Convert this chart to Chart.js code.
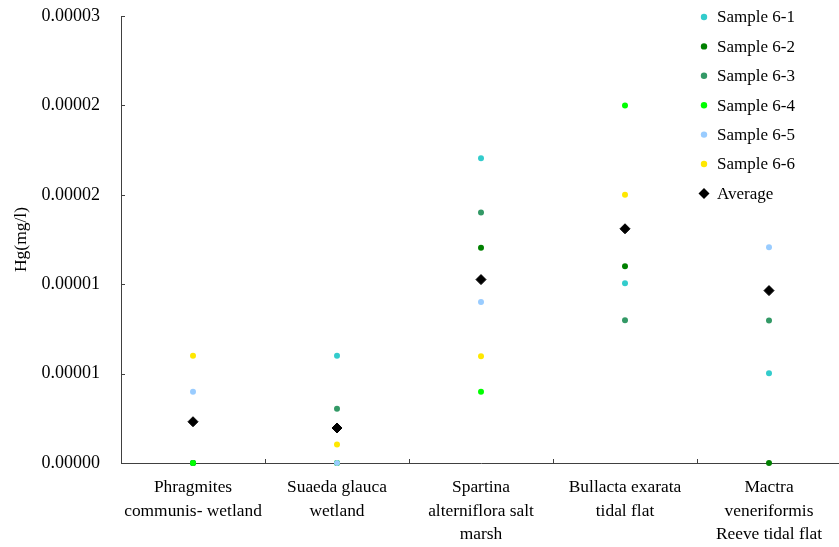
<!DOCTYPE html>
<html>
<head>
<meta charset="utf-8">
<script src="https://cdn.jsdelivr.net/npm/chart.js@4"></script>
<style>
  html, body { margin: 0; padding: 0; background: #fff; overflow: hidden; }
  #wrap { width: 841px; height: 547px; position: relative; }
  canvas { display: block; }
</style>
</head>
<body>
<div id="wrap"><canvas id="c"></canvas></div>
<script>
const categories = [
  ['Phragmites', 'communis- wetland'],
  ['Suaeda glauca', 'wetland'],
  ['Spartina', 'alterniflora salt', 'marsh'],
  ['Bullacta exarata', 'tidal flat'],
  ['Mactra', 'veneriformis', 'Reeve tidal flat']
];
const seriesNames = ['Sample 6-1', 'Sample 6-2', 'Sample 6-3', 'Sample 6-4', 'Sample 6-5', 'Sample 6-6', 'Average'];
const sample61 = [0, 0.00000720, 0.00002046, 0.00001206, 0.00000603];
const sample62 = [0, 0, 0.00001445, 0.00001320, 0];
const sample63 = [0, 0.00000364, 0.00001682, 0.00000958, 0.00000956];
const sample64 = [0, 0, 0.00000478, 0.00002400, null];
const sample65 = [0.00000478, 0, 0.00001081, null, 0.00001448];
const sample66 = [0.00000720, 0.00000125, 0.00000717, 0.00001800, null];
const average  = [0.00000277, 0.00000235, 0.00001231, 0.00001572, 0.00001157];
const yTickValues = [0, 0.000006, 0.000012, 0.000018, 0.000024, 0.00003];
const yTickLabels = ['0.00000', '0.00001', '0.00001', '0.00002', '0.00002', '0.00003'];

const colors = ['#33CCCC', '#008000', '#339966', '#00FF00', '#99CCFF', '#FFE800', '#000000'];
const seriesData = [sample61, sample62, sample63, sample64, sample65, sample66, average];
const FONT = 'Liberation Serif, Times New Roman, serif';

const datasets = seriesData.map((d, i) => {
  const isAvg = i === 6;
  return {
    label: seriesNames[i],
    data: d,
    showLine: false,
    clip: false,
    pointStyle: isAvg ? 'rectRot' : 'circle',
    pointRadius: isAvg ? 5 : 3,
    pointHoverRadius: isAvg ? 5 : 3,
    pointBackgroundColor: colors[i],
    pointBorderColor: colors[i],
    pointBorderWidth: isAvg ? 1 : 0,
    backgroundColor: colors[i],
    borderColor: colors[i],
    order: 6 - i
  };
});

const innerTicks = {
  id: 'innerTicks',
  afterDraw(chart) {
    const ctx = chart.ctx;
    const x = chart.scales.x, y = chart.scales.y;
    ctx.save();
    ctx.strokeStyle = '#404040';
    ctx.lineWidth = 1;
    ctx.beginPath();
    y.ticks.forEach((t, i) => {
      const py = Math.round(y.getPixelForTick(i)) + 0.5;
      ctx.moveTo(y.right, py);
      ctx.lineTo(y.right + 4, py);
    });
    for (let i = 0; i < x.ticks.length - 1; i++) {
      const px = Math.round((x.getPixelForTick(i) + x.getPixelForTick(i + 1)) / 2) + 0.5;
      ctx.moveTo(px, x.top);
      ctx.lineTo(px, x.top - 4);
    }
    ctx.stroke();
    ctx.restore();
  }
};

const customLegend = {
  id: 'customLegend',
  afterDraw(chart) {
    const ctx = chart.ctx;
    ctx.save();
    ctx.font = '17px ' + FONT;
    ctx.textBaseline = 'middle';
    ctx.textAlign = 'left';
    chart.data.datasets.forEach((ds, i) => {
      const cy = 17 + i * 29.4;
      const cx = 704;
      ctx.fillStyle = ds.pointBackgroundColor;
      ctx.beginPath();
      if (ds.pointStyle === 'rectRot') {
        ctx.moveTo(cx - 5.5, cy);
        ctx.lineTo(cx, cy - 5.5);
        ctx.lineTo(cx + 5.5, cy);
        ctx.lineTo(cx, cy + 5.5);
        ctx.closePath();
      } else {
        ctx.arc(cx, cy, 3.2, 0, Math.PI * 2);
      }
      ctx.fill();
      ctx.fillStyle = '#000';
      ctx.fillText(ds.label, 717, cy + 1);
    });
    ctx.restore();
  }
};

new Chart(document.getElementById('c'), {
  type: 'line',
  data: { labels: categories, datasets },
  options: {
    responsive: true,
    maintainAspectRatio: false,
    animation: false,
    layout: { autoPadding: false, padding: { top: 16, right: 0, left: 0, bottom: 0 } },
    plugins: {
      legend: { display: false },
      tooltip: { enabled: false }
    },
    scales: {
      x: {
        type: 'category',
        offset: true,
        grid: { display: true, drawOnChartArea: false, drawTicks: false, offset: true },
        border: { display: true, color: '#404040', width: 1 },
        ticks: {
          color: '#000',
          font: { family: FONT, size: 17.4, lineHeight: 1.34 },
          padding: 13,
          maxRotation: 0,
          minRotation: 0,
          autoSkip: false
        },
        afterFit(scale) {
          scale.height = 84;
          scale.paddingLeft = 0; scale.paddingRight = 0;
        }
      },
      y: {
        type: 'linear',
        min: 0,
        max: 0.00003,
        afterBuildTicks(scale) { scale.ticks = yTickValues.map(v => ({ value: v })); },
        grid: { display: true, drawOnChartArea: false, drawTicks: false },
        border: { display: true, color: '#404040', width: 1 },
        ticks: {
          color: '#000',
          font: { family: FONT, size: 18 },
          padding: 21,
          callback(value, index) { return yTickLabels[index]; }
        },
        title: {
          display: true,
          text: 'Hg(mg/l)',
          color: '#000',
          font: { family: FONT, size: 17.5 },
          padding: { top: 11, bottom: 0 }
        },
        afterFit(scale) {
          scale.width = 121;
          scale.paddingTop = 0; scale.paddingBottom = 0;
        }
      }
    }
  },
  plugins: [innerTicks, customLegend]
});
</script>
</body>
</html>
